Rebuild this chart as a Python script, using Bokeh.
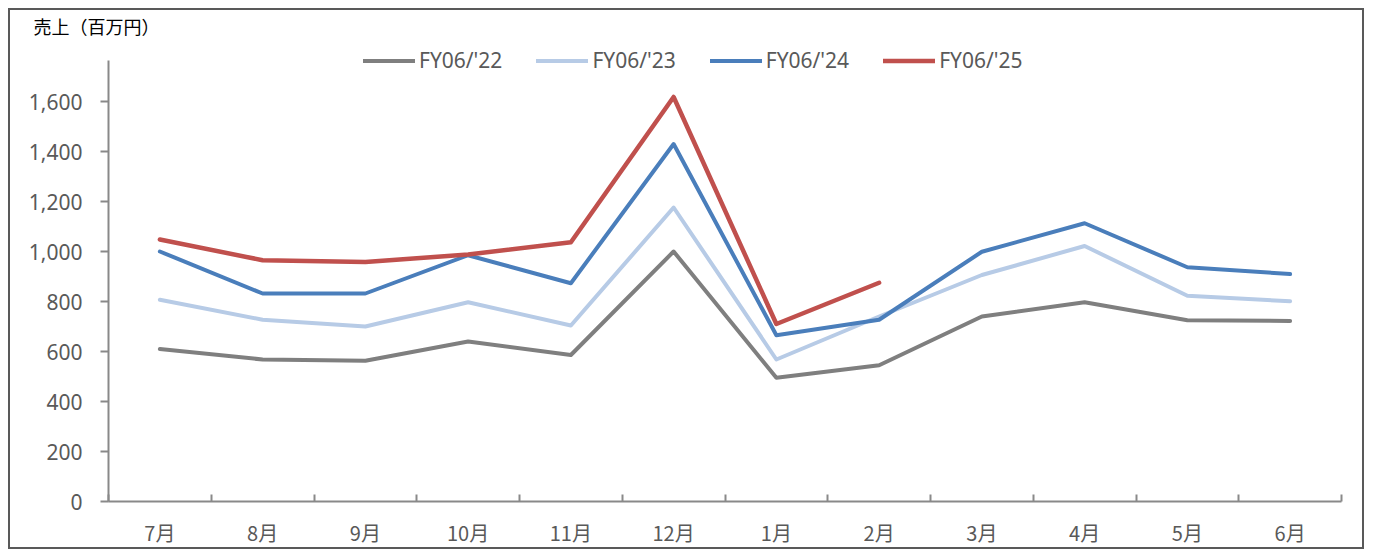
from bokeh.plotting import figure
from bokeh.models import (Range1d, FixedTicker, NumeralTickFormatter, Legend,
                          LegendItem, ColumnDataSource)
from bokeh.embed import file_html
from bokeh.resources import INLINE

months = ["7月", "8月", "9月", "10月", "11月", "12月", "1月", "2月", "3月", "4月", "5月", "6月"]
fy22 = [610, 568, 563, 640, 586, 1000, 495, 545, 740, 797, 725, 722]
fy23 = [807, 727, 700, 797, 704, 1176, 568, 740, 906, 1022, 823, 801]
fy24 = [1000, 832, 832, 985, 873, 1430, 665, 727, 999, 1113, 937, 910]
fy25 = [1048, 965, 958, 988, 1037, 1618, 710, 875]
series_names = ["FY06/'22", "FY06/'23", "FY06/'24", "FY06/'25"]
y_ticks = [0, 200, 400, 600, 800, 1000, 1200, 1400, 1600]
y_title = "売上（百万円）"

colors = ["#7f7f7f", "#b7cbe6", "#4a7ebb", "#c0504d"]
widths = [4, 4, 4, 4.5]

centers = [i + 0.5 for i in range(len(months))]
bounds = [float(i) for i in range(len(months) + 1)]

W, H = 1356, 541
TOP = 28
p = figure(width=W, height=H, output_backend="svg", toolbar_location=None,
           x_range=Range1d(0, len(months)),
           y_range=Range1d(0, (H - TOP - 50) * 4),
           min_border_left=98, min_border_right=25, min_border_top=TOP,
           min_border_bottom=50)
p.styles = {"border": "2px solid #595959", "margin": "8px 8px 0 8px"}
p.outline_line_color = None
p.xgrid.grid_line_color = None
p.ygrid.grid_line_color = None
p.background_fill_color = "white"
p.border_fill_color = "white"

# title (unit caption)
p.title.text = y_title
p.title.align = "left"
p.title.offset = -75
p.title.standoff = 0
p.title.text_font = "Noto Sans CJK JP"
p.title.text_font_size = "18px"
p.title.text_font_style = "normal"
p.title.text_color = "#000000"

# x axis
xa = p.xaxis[0]
xa.ticker = FixedTicker(ticks=centers, minor_ticks=bounds)
xa.major_label_overrides = {c: m for c, m in zip(centers, months)}
xa.major_tick_in = 0
xa.major_tick_out = 0
xa.minor_tick_in = 7
xa.minor_tick_out = 0
xa.minor_tick_line_color = "#898989"
xa.minor_tick_line_width = 2
xa.axis_line_color = "#898989"
xa.axis_line_width = 2
xa.major_label_text_font = "Noto Sans CJK JP"
xa.major_label_text_font_size = "20px"
xa.major_label_text_color = "#595959"
xa.major_label_standoff = 16

# y axis
ya = p.yaxis[0]
ya.ticker = FixedTicker(ticks=y_ticks)
ya.formatter = NumeralTickFormatter(format="0,0")
ya.bounds = (0, 1764)
ya.major_tick_in = 0
ya.major_tick_out = 8
ya.minor_tick_line_color = None
ya.major_tick_line_color = "#898989"
ya.major_tick_line_width = 2
ya.axis_line_color = "#898989"
ya.axis_line_width = 2
ya.major_label_text_font = "Noto Sans"
ya.major_label_text_font_size = "21px"
ya.major_label_text_color = "#595959"
ya.major_label_standoff = 18

items = []
for name, vals, c, w in zip(series_names, [fy22, fy23, fy24, fy25], colors, widths):
    src = ColumnDataSource(dict(x=centers[:len(vals)], y=vals))
    r = p.line("x", "y", source=src, line_color=c, line_width=w,
               line_join="round", line_cap="round")
    items.append(LegendItem(label=name, renderers=[r]))

legend = Legend(items=items, orientation="horizontal",
                location=(255, H - TOP - 50 - 10 - 26),
                glyph_width=52, glyph_height=25, label_height=25,
                label_standoff=4, spacing=34, padding=0, margin=0,
                border_line_color=None, background_fill_alpha=0,
                label_text_font="Noto Sans", label_text_font_size="21px",
                label_text_color="#595959")
p.add_layout(legend, "center")

open("out.html", "w").write(file_html(p, INLINE))
